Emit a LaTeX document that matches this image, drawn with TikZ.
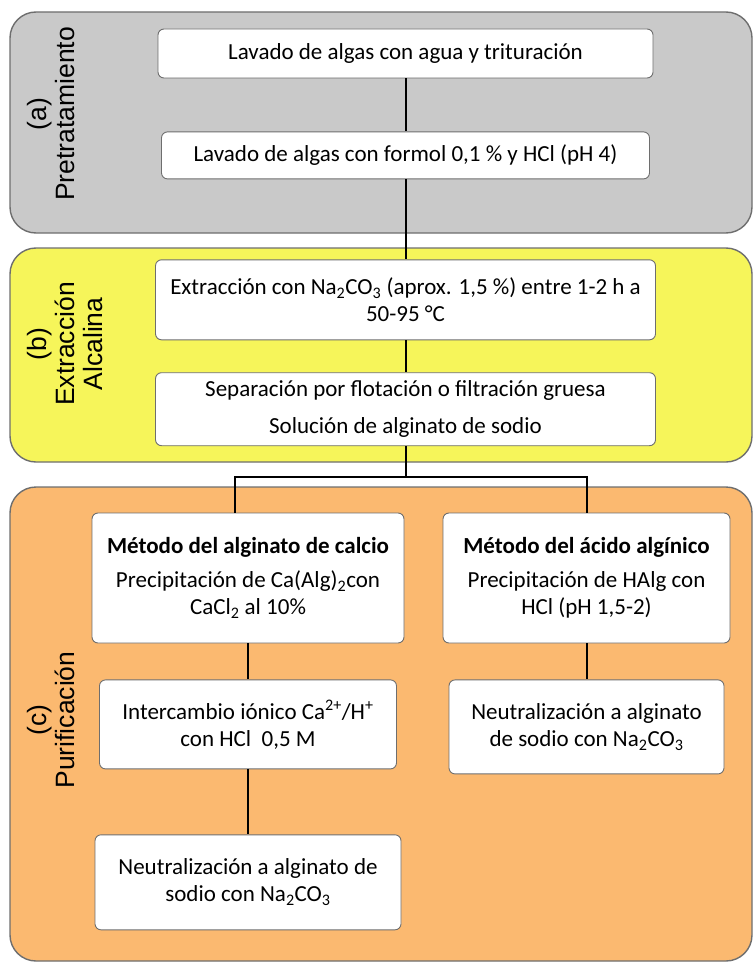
\documentclass[tikz,border=0pt]{standalone}
\usepackage{fontspec}
\setmainfont{Carlito}
\newfontfamily\sidefont{Liberation Sans}
\definecolor{pregray}{RGB}{201,201,201}
\definecolor{extyellow}{RGB}{246,245,90}
\definecolor{purorange}{RGB}{251,185,112}
\definecolor{edgegray}{RGB}{110,110,110}
\usetikzlibrary{positioning}

\begin{document}
\begin{tikzpicture}[x=1pt, y=-1pt,
      panel/.style={draw=edgegray, line width=1.4pt, rounded corners=26pt},
      stage/.style={draw=edgegray, fill=white, line width=0.9pt, rounded corners=6pt,
                    align=center, inner sep=2pt,
                    font=\fontsize{23}{27}\selectfont},
      side/.style={rotate=90, align=center,
                   font=\sidefont\fontsize{26.5}{28}\selectfont},
      link/.style={line width=2pt, black}
  ]
    \useasboundingbox (0,0) rectangle (754,963);
    % fases
    \draw[panel, fill=pregray]    (10,12)  rectangle (752,233);
    \draw[panel, fill=extyellow]  (10,248) rectangle (752,462);
    \draw[panel, fill=purorange]  (10,487) rectangle (752,961);
    \node[side] (pa) at (51,114) {(a)\\Pretratamiento};
    \node[side] (pb) at (65,344) {(b)\\Extracción\\Alcalina};
    \node[side] (pc) at (51,720) {(c)\\Purificación};

    % pretratamiento
    \node[stage, minimum width=495pt, minimum height=49pt] (lav) at (405.5,53.5)
         {Lavado de algas con agua y trituración};
    \node[stage, minimum width=488pt, minimum height=47pt, below=53pt of lav] (form)
         {Lavado de algas con formol 0,1 \% y HCl (pH 4)};
    % extraccion alcalina
    \node[stage, minimum width=500pt, minimum height=80pt, below=80pt of form] (ext)
         {Extracción con Na\textsubscript{2}CO\textsubscript{3} (aprox. 1,5 \%) entre 1-2 h a\\ 50-95 °C};
    \node[stage, minimum width=500pt, minimum height=73pt, below=32pt of ext] (sep)
         {Separación por flotación o filtración gruesa\\[10pt] Solución de alginato de sodio};
    % purificacion
    \node[stage, minimum width=312pt, minimum height=130pt] (calc) at (248,578)
         {\textbf{Método del alginato de calcio}\\[7pt]
          Precipitación de Ca(Alg)\textsubscript{2}con\\ CaCl\textsubscript{2} al 10\%};
    \node[stage, minimum width=287pt, minimum height=130pt] (acid) at (586.5,578)
         {\textbf{Método del ácido algínico}\\[7pt]
          Precipitación de HAlg con\\ HCl (pH 1,5-2)};
    \node[stage, minimum width=297pt, minimum height=89pt, below=36pt of calc] (inter)
         {Intercambio iónico Ca\textsuperscript{2+}/H\textsuperscript{+}\\ con HCl~~0,5 M};
    \node[stage, minimum width=275pt, minimum height=94pt, below=36pt of acid] (neua)
         {Neutralización a alginato\\ de sodio con Na\textsubscript{2}CO\textsubscript{3}};
    \node[stage, minimum width=306pt, minimum height=95pt, below=65pt of inter] (neuc)
         {Neutralización a alginato de\\ sodio con Na\textsubscript{2}CO\textsubscript{3}};

    \coordinate (split) at (sep.south |- 0,477);
    \coordinate (lft) at (235,477);
    \draw[link] (lav) -- (form);
    \draw[link] (form) -- (ext);
    \draw[link] (ext) -- (sep);
    \draw[link] (sep) -- (split);
    \draw[link] (split) -- (lft) -- (lft |- calc.north);
    \draw[link] (split) -| (acid.north);
    \draw[link] (calc) -- (inter);
    \draw[link] (inter) -- (neuc);
    \draw[link] (acid) -- (neua);
  \end{tikzpicture}
\end{document}
